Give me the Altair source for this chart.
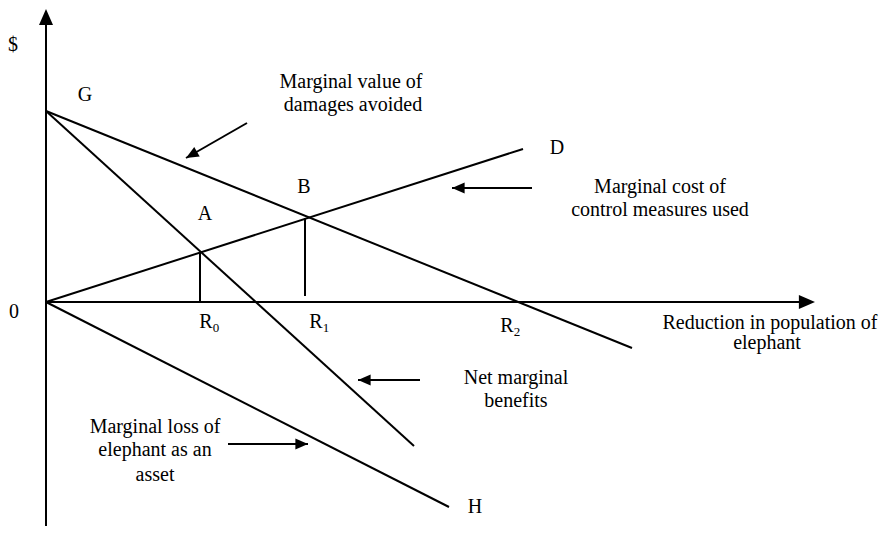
import math
import altair as alt
import pandas as pd

# ---- diagram data (origin = axis crossing; x = reduction in population, y = $) ----
curve_names = ["Marginal value of damages avoided",
               "Marginal cost of control measures used",
               "Net marginal benefits",
               "Marginal loss of elephant as an asset"]
curve_x_start = [0, 0, 0, 0]
curve_y_start = [191, 0, 191, 0]
curve_x_end = [586, 477, 368, 403]
curve_y_end = [-46, 153, -144, -205]

# drop lines from the equilibrium points A and B down to R0 and R1
drop_x = [154, 259]
drop_y_top = [50, 84]
drop_y_bottom = [0, 6]

# axes
x_axis_end = 769
y_axis_top = 293
y_axis_bottom = -224

# annotation arrows (start -> tip)
arrow_x_start = [201, 486, 374, 182]
arrow_y_start = [179, 114, -78, -142]
arrow_x_tip = [140, 406, 312, 262]
arrow_y_tip = [144, 114, -78, -142]

# text labels
label_text = ["$", "0", "G", "A", "B", "D", "H",
              "Marginal value of", "damages avoided",
              "Marginal cost of", "control measures used",
              "Reduction in population of", "elephant",
              "Net marginal", "benefits",
              "Marginal loss of", "elephant as an", "asset",
              "R", "R", "R"]
label_x = [-33, -32, 39, 159, 258, 511, 429,
           305, 307,
           614, 614,
           724, 721,
           470, 470,
           109, 109, 109,
           160, 270, 461]
label_y = [257, -10, 207, 88, 115, 154, -205,
           220, 197,
           115, 92,
           -21, -41,
           -76, -99,
           -125, -148, -173,
           -20, -20, -24]

sub_text = ["0", "1", "2"]
sub_x = [170, 280, 471]
sub_y = [-26, -26, -30]

# ---- build tables ----
rules = []
for i in range(len(curve_names)):
    rules.append(dict(x=curve_x_start[i], y=curve_y_start[i],
                      x2=curve_x_end[i], y2=curve_y_end[i]))
for i in range(len(drop_x)):
    rules.append(dict(x=drop_x[i], y=drop_y_bottom[i], x2=drop_x[i], y2=drop_y_top[i]))
rules.append(dict(x=0, y=0, x2=x_axis_end - 8, y2=0))
rules.append(dict(x=0, y=y_axis_bottom, x2=0, y2=y_axis_top - 8))
for i in range(len(arrow_x_start)):
    rules.append(dict(x=arrow_x_start[i], y=arrow_y_start[i],
                      x2=arrow_x_tip[i], y2=arrow_y_tip[i]))
rules_df = pd.DataFrame(rules)

heads = [dict(x=x_axis_end, y=0, angle=90, size=196),
         dict(x=0, y=y_axis_top, angle=0, size=196)]
for i in range(len(arrow_x_start)):
    dx = arrow_x_tip[i] - arrow_x_start[i]
    dy = arrow_y_tip[i] - arrow_y_start[i]
    ang = math.degrees(math.atan2(dx, dy)) % 360
    heads.append(dict(x=arrow_x_tip[i], y=arrow_y_tip[i], angle=ang, size=121))
heads_df = pd.DataFrame(heads)

labels_df = pd.DataFrame(dict(t=label_text, x=label_x, y=label_y))
subs_df = pd.DataFrame(dict(t=sub_text, x=sub_x, y=sub_y))

xs = alt.Scale(domain=[-38, 837], nice=False, zero=False)
ys = alt.Scale(domain=[-224, 294], nice=False, zero=False)
FONT = "'Liberation Serif', 'Times New Roman', serif"

lines = alt.Chart(rules_df).mark_rule(color="black", strokeWidth=2).encode(
    x=alt.X("x:Q", scale=xs, axis=None),
    y=alt.Y("y:Q", scale=ys, axis=None),
    x2="x2:Q", y2="y2:Q")

arrowheads = alt.Chart(heads_df).mark_point(
    shape="M0,0L-1,2.3L1,2.3Z", filled=True, color="black", opacity=1, strokeWidth=0
).encode(
    x=alt.X("x:Q", scale=xs, axis=None),
    y=alt.Y("y:Q", scale=ys, axis=None),
    angle=alt.Angle("angle:Q", scale=None),
    size=alt.Size("size:Q", scale=None))

texts = alt.Chart(labels_df).mark_text(
    font=FONT, fontSize=20, color="black", align="center", baseline="middle"
).encode(
    x=alt.X("x:Q", scale=xs, axis=None),
    y=alt.Y("y:Q", scale=ys, axis=None),
    text="t:N")

subs = alt.Chart(subs_df).mark_text(
    font=FONT, fontSize=13, color="black", align="center", baseline="middle"
).encode(
    x=alt.X("x:Q", scale=xs, axis=None),
    y=alt.Y("y:Q", scale=ys, axis=None),
    text="t:N")

chart = alt.layer(lines, arrowheads, texts, subs).properties(
    width=875, height=518,
    autosize=alt.AutoSizeParams(type="none"),
    padding=0,
    background="white",
).configure_view(stroke=None)

chart.save("out.html", embed_options={"renderer": "svg", "actions": False})
